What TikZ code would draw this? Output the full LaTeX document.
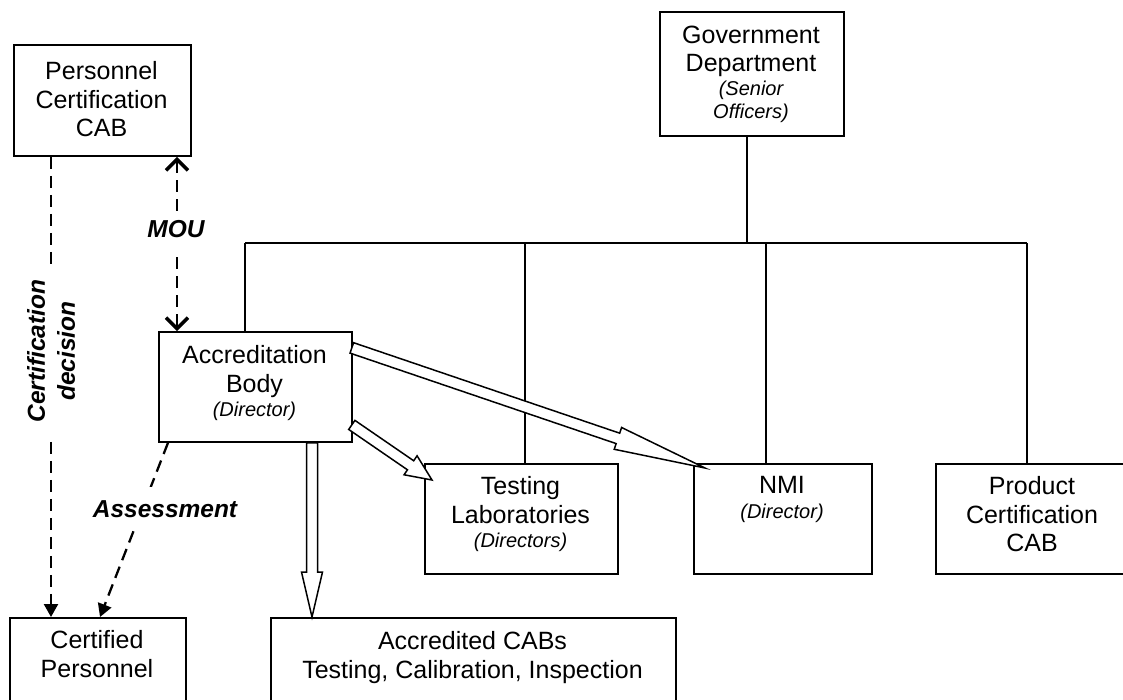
\documentclass[tikz,border=0pt]{standalone}
\usepackage{fontspec}
\setmainfont{Liberation Sans}
\usetikzlibrary{arrows.meta,calc}
\tikzset{
  boxnode/.style={draw, line width=1.8pt, rectangle, inner sep=0pt, anchor=north west},
  txt/.style={align=center, inner sep=0pt, anchor=north, font=\fontsize{25}{28.5}\selectfont, execute at begin node=\rule{0pt}{18.5pt}},
  lbl/.style={font=\fontsize{24.5}{28}\selectfont\bfseries\itshape, inner sep=0pt},
  tree/.style={line width=1.8pt},
  dsh/.style={line width=2.3pt, dash pattern=on 12pt off 7pt},
  blk/.style={draw, fill=white, line width=1.5pt, line join=miter},
  filltip/.style={-{Triangle[length=13pt,width=14pt]}},
}
\newcommand\subtxt[1]{{\itshape\fontsize{20}{23}\selectfont #1}}
% start, end, shaft half width, head half width, head length
\newcommand\blockarrow[5]{%
  \coordinate (bahead) at ($(#2)!#5!(#1)$);
  \draw[blk] ($(#1)!#3!90:(#2)$) -- ($(bahead)!#3!90:(#2)$) -- ($(bahead)!#4!90:(#2)$)
    -- (#2) -- ($(bahead)!#4!-90:(#2)$) -- ($(bahead)!#3!-90:(#2)$) -- ($(#1)!#3!-90:(#2)$) -- cycle;
}
\begin{document}
\begin{tikzpicture}[x=1pt,y=-1pt]
\useasboundingbox (0,0) rectangle (1123,699);

% boxes
\node[boxnode, minimum width=177pt, minimum height=111pt] (pcab) at (13,44) {};
\node[boxnode, minimum width=184pt, minimum height=124pt] (gov) at (659,11) {};
\node[boxnode, minimum width=193pt, minimum height=110pt] (ab) at (158,331) {};
\node[boxnode, minimum width=193pt, minimum height=110pt] (tl) at (424,463) {};
\node[boxnode, minimum width=178pt, minimum height=110pt] (nmi) at (693,463) {};
\node[boxnode, minimum width=194pt, minimum height=110pt] (pc) at (935,463) {};
\node[boxnode, minimum width=176pt, minimum height=95pt] (cp) at (9,617) {};
\node[boxnode, minimum width=405pt, minimum height=95pt] (acc) at (270,617) {};

% texts
\node[txt] (pcabt) at (101.5,61.5) {Personnel\\Certification\\CAB};
\node[txt] (govt) at (751,25.5) {Government\\Department\\[-4.5pt]\subtxt{(Senior}\\[-5.5pt]\subtxt{Officers)}};
\node[txt] (abt) at (254.5,345.5) {Accreditation\\Body\\[-4.5pt]\subtxt{(Director)}};
\node[txt] (tlt) at (520.5,476.5) {Testing\\Laboratories\\[-4.5pt]\subtxt{(Directors)}};
\node[txt] (nmit) at (782,476.5) {NMI\\[-3.5pt]\subtxt{(Director)}};
\node[txt] (pct) at (1032,476.5) {Product\\Certification\\CAB};
\node[txt] (cpt) at (97,630.5) {Certified\\Personnel};
\node[txt] (acct) at (472.5,631.5) {Accredited CABs\\Testing, Calibration, Inspection};

% organisation tree
\coordinate (govx) at (747,0);
\coordinate (busL) at (245,243);
\coordinate (busT) at (525,243);
\coordinate (busN) at (766,243);
\coordinate (busR) at (1027,243);
\draw[tree] (gov.south -| govx) -- (busL -| govx);
\draw[tree] (busL) -- (busR);
\draw[tree] (busL) -- (busL |- ab.north);
\draw[tree] (busT) -- (busT |- tl.north);
\draw[tree] (busN) -- (busN |- nmi.north);
\draw[tree] (busR) -- (busR |- pc.north);

% certification decision
\coordinate (cdx) at (51,0);
\draw[dsh, filltip] (pcab.south -| cdx) -- (cp.north -| cdx);
\node[lbl, font=\fontsize{24.5}{30}\selectfont\bfseries\itshape, rotate=90, align=center, fill=white, inner xsep=16pt, inner ysep=0pt] (cdl) at (51,351) {Certification\\decision};

% MOU
\coordinate (mouT) at (177,215);
\coordinate (mouB) at (177,257);
\draw[dsh, {Straight Barb[length=11pt,width=22pt,line width=3.5pt]}-] (pcab.south -| mouT) -- (mouT);
\draw[dsh, -{Straight Barb[length=11pt,width=22pt,line width=3.5pt]}] (mouB) -- (ab.north -| mouB);
\node[lbl, anchor=base] (mou) at (176,237) {MOU};

% Assessment
\draw[dsh, filltip] ($(ab.south west)+(10,0)$) -- ($(cp.north west)+(91,0)$);
\node[lbl, anchor=base, fill=white, inner xsep=0pt, inner ysep=13pt] (asl) at (165,517) {Assessment};

% block arrows
\coordinate (ax) at (312,0);
\coordinate (a1s) at (ab.south -| ax);
\coordinate (a1e) at (acc.north -| ax);
\blockarrow{a1s}{a1e}{5.5pt}{10.5pt}{45pt}
\coordinate (a2s) at ($(ab.east)+(-1,38)$);
\coordinate (a2e) at ($(tl.north west)+(8,17)$);
\blockarrow{a2s}{a2e}{5.5pt}{11.5pt}{26pt}
\coordinate (a3s) at ($(ab.east)+(-1,-39)$);
\coordinate (a3e) at ($(nmi.north west)+(12,5)$);
\blockarrow{a3s}{a3e}{5.5pt}{11.5pt}{92pt}
\end{tikzpicture}
\end{document}
